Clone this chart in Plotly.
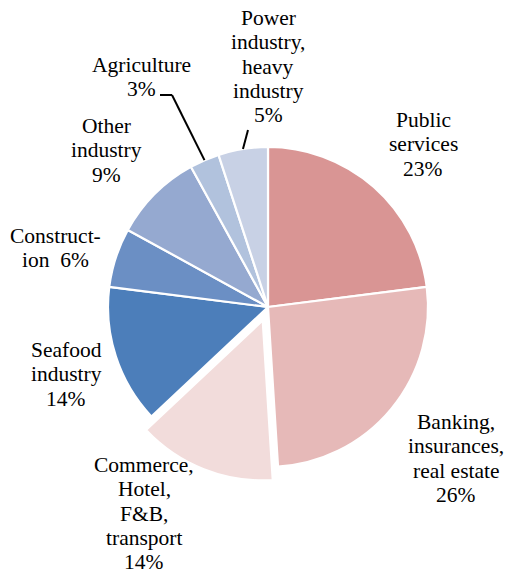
import math
import plotly.graph_objects as go

# Share of employment by sector (%)
sectors = ["Public services", "Banking, insurances, real estate",
           "Commerce, Hotel, F&B, transport", "Seafood industry",
           "Construction", "Other industry", "Agriculture",
           "Power industry, heavy industry"]
shares = [23, 26, 14, 14, 6, 9, 3, 5]
# Text lines of each slice label (percentage added below)
label_lines = [["Public", "services"],
               ["Banking,", "insurances,", "real estate"],
               ["Commerce,", "Hotel,", "F&B,", "transport"],
               ["Seafood", "industry"],
               ["Construct-", "ion"],
               ["Other", "industry"],
               ["Agriculture"],
               ["Power", "industry,", "heavy", "industry"]]
colors = ["#D99594", "#E6B9B8", "#F2DCDB", "#4C7EBA",
          "#6B8FC4", "#95A9D0", "#B1C2DD", "#C8D1E5"]
pulls = [0, 0, 0.09, 0, 0, 0, 0, 0]

W, H = 506, 575
CX, CY, R = 268, 307, 160          # pie centre and radius in pixels
max_pull = max(pulls)
half = R * (1 + max_pull)

# label anchor: centre x, first baseline y (pixels), percentage inline?
label_pos = [(423, 127, False), (456, 429, False), (144, 472, False),
             (66, 357, False), (55, 243, True), (106, 133, False),
             (141, 72, False), (268, 25, False)]
PITCH = 24.3
SERIF = "Liberation Serif"

fig = go.Figure(go.Pie(
    labels=sectors, values=shares, sort=False, direction="clockwise",
    rotation=0, pull=pulls, textinfo="none", hoverinfo="label+percent",
    marker=dict(colors=colors, line=dict(color="white", width=2.2)),
    domain=dict(x=[(CX - half) / W, (CX + half) / W],
                y=[(H - CY - half) / H, (H - CY + half) / H]),
    showlegend=False,
))

def px(x, y):
    return x / W, 1 - y / H

for lines, v, (cx, by, inline) in zip(label_lines, shares, label_pos):
    rows = list(lines)
    if inline:
        rows[-1] = rows[-1] + "\u00a0\u00a0" + f"{v}%"
    else:
        rows.append(f"{v}%")
    for i, row in enumerate(rows):
        x, y = px(cx, by + i * PITCH - 7)
        fig.add_annotation(x=x, y=y, xref="paper", yref="paper",
                           text=row, showarrow=False,
                           font=dict(family=SERIF, size=21.5, color="black"),
                           xanchor="center", yanchor="middle")

# leader lines for the two thin slices at the top
total = sum(shares)
cum = 0
mids = []
for v in shares:
    mids.append((cum + v / 2) / total * 2 * math.pi)
    cum += v

def rim(idx):
    a = mids[idx]
    return CX + R * math.sin(a), CY - R * math.cos(a)

def leader(points):
    for (x0, y0), (x1, y1) in zip(points[:-1], points[1:]):
        X0, Y0 = px(x0, y0)
        X1, Y1 = px(x1, y1)
        fig.add_shape(type="line", xref="paper", yref="paper",
                      x0=X0, y0=Y0, x1=X1, y1=Y1,
                      line=dict(color="black", width=2))

leader([(160, 95), (172, 95), rim(6)])
leader([(248, 130), rim(7)])

fig.update_layout(width=W, height=H, margin=dict(l=0, r=0, t=0, b=0),
                  paper_bgcolor="white", plot_bgcolor="white",
                  font=dict(family=SERIF))
fig.write_html("out.html")
